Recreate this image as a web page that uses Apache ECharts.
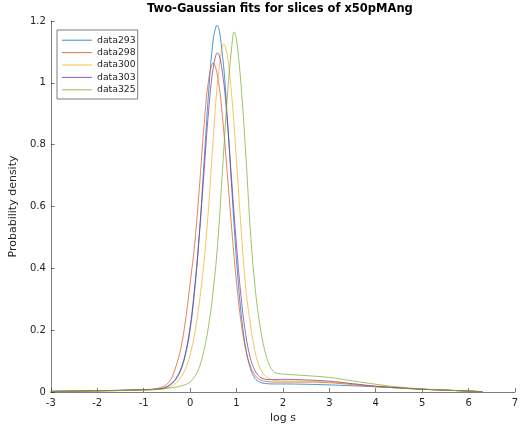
<!DOCTYPE html>
<html>
<head>
<meta charset="utf-8">
<script src="https://cdn.jsdelivr.net/npm/echarts@6/dist/echarts.min.js"></script>
<style>
  html, body { margin: 0; padding: 0; background: #fff; }
  #chart { width: 522px; height: 431px; }
</style>
</head>
<body>
<div id="chart"></div>
<script>
// values, [log s, density]
var names = ['data293', 'data298', 'data300', 'data303', 'data325'];
var colors = ['#0072BD', '#D95319', '#EDB120', '#7E2F8E', '#77AC30'];

var data293 = [[-3,0.002],[-2.5,0.003],[-2,0.004],[-1.5,0.005],[-1,0.007],[-0.8,0.008],[-0.6,0.011],[-0.5,0.016],[-0.4,0.026],[-0.3,0.042],[-0.2,0.07],[-0.1,0.12],[0,0.20],[0.1,0.33],[0.2,0.51],[0.3,0.74],[0.4,0.97],[0.5,1.14],[0.58,1.186],[0.7,1.086],[0.8,0.892],[0.9,0.653],[1.0,0.428],[1.1,0.254],[1.2,0.141],[1.3,0.076],[1.4,0.044],[1.5,0.032],[1.6,0.028],[1.8,0.026],[2,0.026],[2.5,0.025],[3,0.023],[3.5,0.020],[4,0.017],[4.5,0.013],[5,0.009],[5.5,0.006],[6,0.003],[6.3,0.001]];
var data298 = [[-3,0.002],[-2.5,0.003],[-2,0.004],[-1.5,0.005],[-1,0.007],[-0.8,0.009],[-0.6,0.016],[-0.5,0.025],[-0.4,0.045],[-0.3,0.085],[-0.2,0.14],[-0.1,0.23],[0,0.35],[0.1,0.48],[0.2,0.66],[0.3,0.86],[0.4,1.01],[0.5,1.064],[0.6,1.015],[0.7,0.886],[0.8,0.71],[0.9,0.523],[1.0,0.355],[1.1,0.225],[1.2,0.137],[1.3,0.083],[1.4,0.054],[1.5,0.040],[1.6,0.035],[1.7,0.033],[1.8,0.032],[2,0.032],[2.5,0.032],[3,0.030],[3.5,0.024],[4,0.017],[4.5,0.013],[5,0.009],[5.5,0.006],[6,0.003],[6.3,0.001]];
var data300 = [[-3,0.002],[-2.5,0.0025],[-2,0.003],[-1.5,0.0045],[-1,0.006],[-0.8,0.007],[-0.6,0.009],[-0.5,0.012],[-0.4,0.018],[-0.3,0.03],[-0.2,0.048],[-0.1,0.075],[0,0.12],[0.1,0.19],[0.2,0.29],[0.3,0.42],[0.4,0.6],[0.5,0.82],[0.6,1.01],[0.73,1.125],[0.8,1.09],[0.9,0.954],[1.0,0.749],[1.1,0.527],[1.2,0.336],[1.3,0.22],[1.4,0.13],[1.5,0.08],[1.6,0.055],[1.7,0.044],[1.8,0.038],[2,0.036],[2.5,0.035],[3,0.032],[3.5,0.026],[4,0.018],[4.5,0.013],[5,0.009],[5.5,0.006],[6,0.003],[6.3,0.001]];
var data303 = [[-3,0.002],[-2.5,0.003],[-2,0.004],[-1.5,0.006],[-1,0.008],[-0.8,0.009],[-0.6,0.012],[-0.5,0.017],[-0.4,0.028],[-0.3,0.045],[-0.2,0.075],[-0.1,0.125],[0,0.21],[0.1,0.34],[0.2,0.51],[0.3,0.71],[0.4,0.91],[0.5,1.05],[0.59,1.097],[0.7,1.031],[0.8,0.879],[0.9,0.677],[1.0,0.475],[1.1,0.306],[1.2,0.185],[1.3,0.109],[1.4,0.069],[1.5,0.049],[1.6,0.042],[1.7,0.040],[1.8,0.040],[2,0.041],[2.5,0.039],[3,0.035],[3.5,0.027],[4,0.019],[4.5,0.014],[5,0.009],[5.5,0.006],[6,0.003],[6.3,0.001]];
var data325 = [[-3,0.002],[-2.5,0.003],[-2,0.004],[-1.5,0.005],[-1,0.007],[-0.8,0.008],[-0.6,0.010],[-0.5,0.012],[-0.3,0.016],[-0.1,0.024],[0,0.032],[0.1,0.05],[0.2,0.08],[0.3,0.135],[0.4,0.215],[0.5,0.33],[0.6,0.49],[0.7,0.72],[0.8,0.95],[0.9,1.12],[0.95,1.165],[1.0,1.14],[1.1,0.99],[1.2,0.77],[1.3,0.52],[1.4,0.34],[1.5,0.22],[1.6,0.14],[1.7,0.09],[1.8,0.066],[1.9,0.06],[2,0.058],[2.5,0.053],[3,0.047],[3.5,0.036],[4,0.025],[4.5,0.016],[5,0.010],[5.5,0.006],[6,0.003],[6.3,0.001]];

var allData = [data293, data298, data300, data303, data325];

var axisColor = '#262626';
var font = 'DejaVu Sans';

var series = [];
for (var i = 0; i < names.length; i++) {
    series.push({
        name: names[i],
        type: 'line',
        data: allData[i],
        symbol: 'none',
        smooth: 0.4,
        lineStyle: { width: 0.9, color: colors[i], opacity: 0.8 },
        itemStyle: { color: colors[i], opacity: 0.8 }
    });
}

var chart = echarts.init(document.getElementById('chart'), null, { renderer: 'canvas' });
chart.setOption({
    animation: false,
    backgroundColor: '#fff',
    textStyle: { fontFamily: font },
    title: {
        text: 'Two-Gaussian fits for slices of x50pMAng',
        left: 147,
        top: 3,
        padding: 0,
        textStyle: { fontFamily: font, fontSize: 11.5, fontWeight: 'bold', color: '#000' }
    },
    legend: {
        orient: 'vertical',
        left: 57,
        top: 30,
        padding: [4, 2, 3, 5],
        icon: 'rect',
        itemWidth: 30,
        itemHeight: 1,
        itemGap: 0,
        borderColor: axisColor,
        borderWidth: 0.6,
        backgroundColor: '#fff',
        textStyle: { fontFamily: font, fontSize: 9.3, lineHeight: 12.4, color: axisColor },
        data: names
    },
    grid: { left: 44, right: 7, top: 21, bottom: 39, containLabel: false },
    xAxis: {
        type: 'value',
        min: -3,
        max: 7,
        interval: 1,
        name: 'log s',
        nameLocation: 'middle',
        nameGap: 16,
        nameTextStyle: { fontFamily: font, fontSize: 11, color: axisColor },
        axisLine: { onZero: false, lineStyle: { color: axisColor, width: 0.6 } },
        axisTick: { inside: true, length: 4, lineStyle: { color: axisColor, width: 0.6 } },
        axisLabel: { fontFamily: font, fontSize: 10, color: axisColor, margin: 6 },
        splitLine: { show: false }
    },
    yAxis: {
        type: 'value',
        min: 0,
        max: 1.2,
        interval: 0.2,
        name: 'Probability density',
        nameLocation: 'middle',
        nameGap: 29,
        nameTextStyle: { fontFamily: font, fontSize: 11, color: axisColor },
        axisLine: { show: true, onZero: false, lineStyle: { color: axisColor, width: 0.6 } },
        axisTick: { show: true, inside: true, length: 4, lineStyle: { color: axisColor, width: 0.6 } },
        axisLabel: { fontFamily: font, fontSize: 10, color: axisColor, margin: 5 },
        splitLine: { show: false }
    },
    series: series
});
</script>
</body>
</html>
